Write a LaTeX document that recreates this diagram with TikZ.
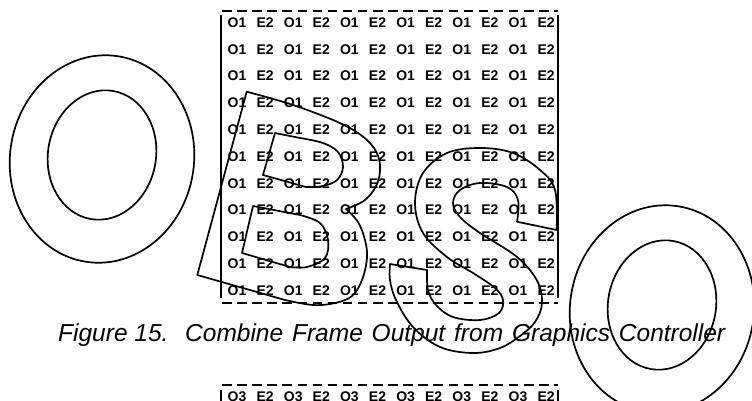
\documentclass[tikz,border=0pt]{standalone}
\usepackage{fontspec}
\setmainfont{Liberation Sans}
\begin{document}
\begin{tikzpicture}[x=1pt,y=-1pt,
  outline/.style={line width=1.7pt, line join=round},
  tok/.style={font=\fontsize{14}{14}\selectfont\bfseries, anchor=base, inner sep=0pt},
  bar/.style={line width=1.6pt},
  dashline/.style={line width=1.6pt, dash pattern=on 9.5pt off 5.6pt},
  captionstyle/.style={font=\fontsize{24.5}{24.5}\selectfont\itshape, anchor=base west, inner sep=0pt}]
\useasboundingbox (0,0) rectangle (752,400);
\clip (0,0) rectangle (752,400);

% ---- upper grid ----
\draw[dashline] (222,11) -- (558,11);
\draw[dashline] (222,303) -- (558,303);
\draw[bar] (221,15) -- (221,298);
\draw[bar] (558,15) -- (558,298);
\foreach \r in {1,...,11} {
  \foreach \c in {0,...,5} {
    \pgfmathsetmacro\yy{27.2+26.8*(\r-1)}
    \pgfmathsetmacro\xo{237+56.2*\c}
    \pgfmathsetmacro\xe{265.1+56.2*\c}
    \node[tok] (o-\r-\c) at (\xo,\yy) {O1};
    \node[tok] (e-\r-\c) at (\xe,\yy) {E2};
  }
}

% ---- caption ----
\node[captionstyle] (capa) at (58,341) {Figure 15.};
\node[captionstyle] (capb) at (185,341) {\makebox[540pt][s]{Combine Frame Output from Graphics Controller}};

% ---- lower grid (cut off at the page edge) ----
\draw[dashline] (222,385) -- (558,385);
\draw[bar] (221,390) -- (221,405);
\draw[bar] (558,390) -- (558,405);
\foreach \c in {0,...,5} {
  \pgfmathsetmacro\xo{237+56.2*\c}
  \pgfmathsetmacro\xe{265.1+56.2*\c}
  \node[tok] (p-\c) at (\xo,401.7) {O3};
  \node[tok] (q-\c) at (\xe,401.7) {E2};
}

% ---- watermark letters O B S O ----
\foreach \dx/\dy in {0/0, 560/150} {
  \begin{scope}[shift={(\dx,\dy)}]
    \draw[outline, rotate around={-9:(102,159)}] (102,159) ellipse [x radius=92, y radius=104];
    \draw[outline, rotate around={-10:(102,155)}] (102,155) ellipse [x radius=54, y radius=65];
  \end{scope}
}

% B outer
\draw[outline] (246.7,91.7)
  -- plot[smooth, tension=0.6] coordinates {(246.7,91.7) (290,104) (333,120) (358,133) (374,148) (380,165) (377,184) (365,200) (346,209)}
  -- plot[smooth, tension=0.6] coordinates {(346,209) (358,222) (365,240) (367,258) (362,280) (352,296) (335,303) (313,305) (285,300)}
  -- (197.3,275) -- cycle;
% B upper counter
\draw[outline] (275,133)
  -- plot[smooth, tension=0.6] coordinates {(300,138) (323,143) (338,152) (343,167) (337,180) (323,186) (306,187)}
  -- (263,175) -- cycle;
% B lower counter
\draw[outline] (253,206)
  -- plot[smooth, tension=0.6] coordinates {(300,215) (320,223) (328,240) (325,258) (307,267) (290,267)}
  -- (242,253) -- cycle;

% S
\draw[outline] (556.7,230) -- (517,221.7)
  -- plot[smooth, tension=0.6] coordinates {(517,221.7) (518,200) (507,187) (480,183) (460,190) (453,203) (460,217) (480,233) (516.7,256.7) (536.7,280) (542,303) (535,322) (520,336) (500,348) (473,353) (440,347) (413,327) (396,300) (390,280) (390,264)}
  -- (427,270)
  -- plot[smooth, tension=0.6] coordinates {(427,270) (428,290) (436,305) (453,317) (480,320) (499,313) (503,300) (495,288) (473,273) (447,257) (423,233) (415,203) (423,173) (447,153) (480,148) (513,153) (540,170) (555,190) (556.7,230)}
  -- cycle;
\end{tikzpicture}
\end{document}
